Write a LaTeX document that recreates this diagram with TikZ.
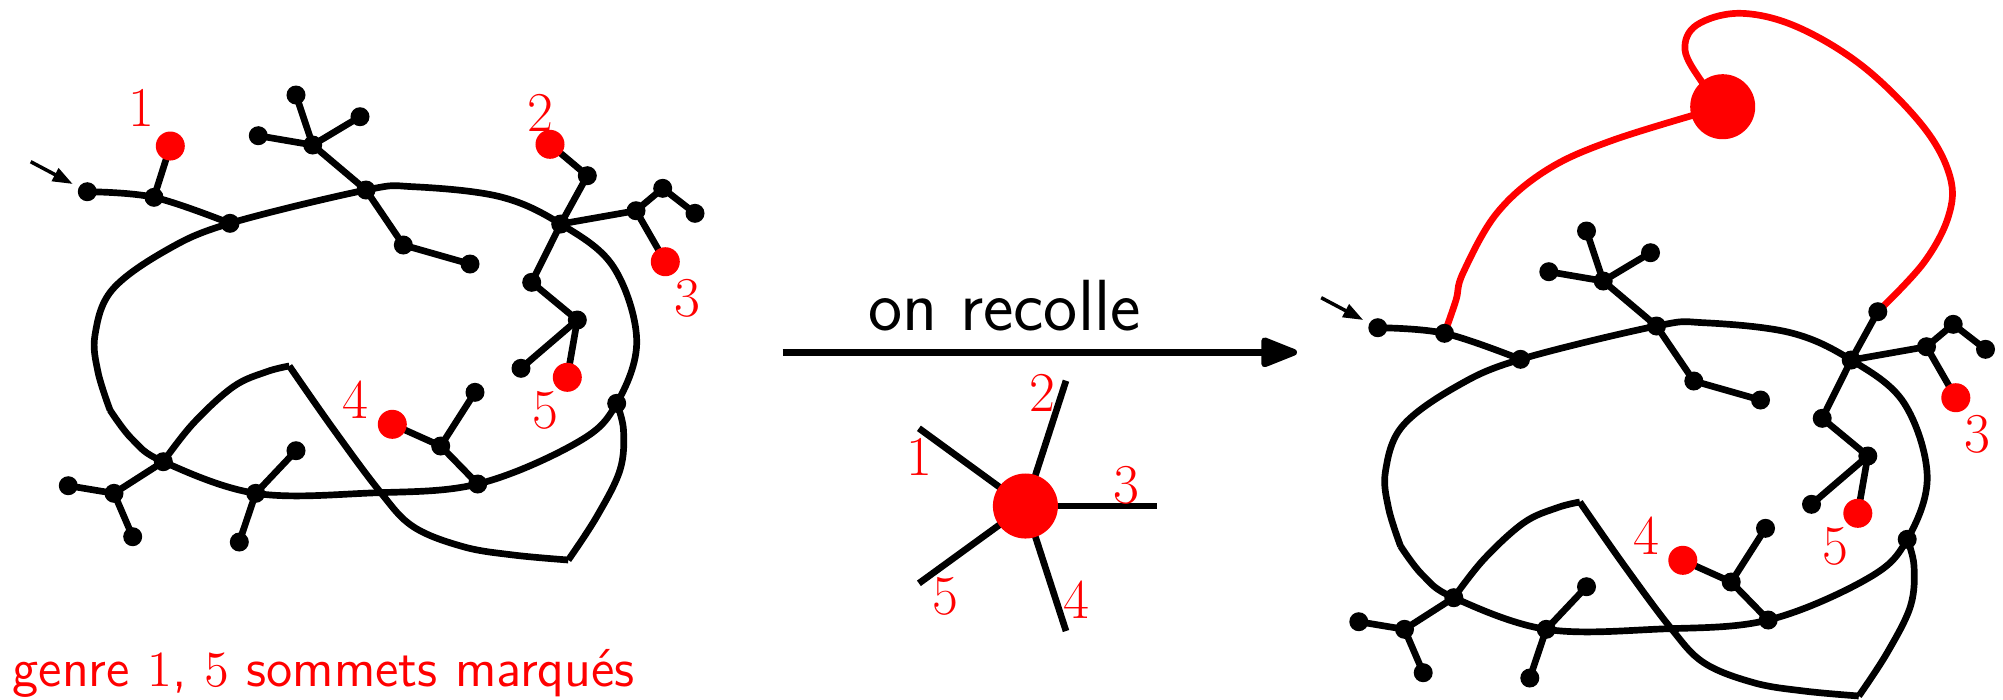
\documentclass[tikz,border=0pt]{standalone}
\usetikzlibrary{arrows.meta}
\pgfdeclarelayer{background}
\pgfsetlayers{background,main}
\tikzset{
  bdot/.style={circle,fill=black,inner sep=0pt,minimum size=0.19cm,outer sep=0pt},
  rdot/.style={circle,fill=red,inner sep=0pt,minimum size=0.29cm,outer sep=0pt},
  bigdot/.style={circle,fill=red,inner sep=0pt,minimum size=0.65cm,outer sep=0pt},
  edge/.style={line width=1.9pt,line join=round},
  redge/.style={edge,draw=red},
  lab/.style={text=red,font=\rmfamily\fontsize{16}{19}\selectfont,inner sep=0pt},
  sarrow/.style={line width=1pt,-{Triangle[length=0.2cm,width=0.14cm]}},
  bigarrow/.style={line width=1.9pt,-{Triangle[length=0.42cm,width=0.31cm,round]}}
}
\newcommand\carteNodes{%
  \node[bdot] (L0) at (87.3,191.7) {};
  \node[bdot] (A1) at (154,197.3) {};
  \node[bdot] (A2) at (230,223.3) {};
  \node[bdot] (T1) at (312.7,145) {};
  \node[bdot] (T1a) at (296,95) {};
  \node[bdot] (T1b) at (360,116.7) {};
  \node[bdot] (T1c) at (258.3,135.7) {};
  \node[bdot] (A3) at (366,190) {};
  \node[bdot] (B) at (403.3,245) {};
  \node[bdot] (B2) at (470,264) {};
  \node[bdot] (H) at (560.7,224) {};
  \node[bdot] (C) at (587.3,175.7) {};
  \node[bdot] (D) at (636,210.7) {};
  \node[bdot] (E) at (662.7,188.3) {};
  \node[bdot] (F) at (695,213.3) {};
  \node[rdot] (m3) at (665.3,261.7) {};
  \node[lab] (l3) at (687.3,298.3) {3};
  \node[bdot] (G) at (531.7,282.3) {};
  \node[bdot] (K) at (577.3,320) {};
  \node[bdot] (Kl) at (521,368.3) {};
  \node[rdot] (m5) at (567.3,377.3) {};
  \node[lab] (l5) at (545,410) {5};
  \node[bdot] (R) at (616.7,403.3) {};
  \node[bdot] (Q) at (477.7,484) {};
  \node[bdot] (S) at (440.7,446) {};
  \node[rdot] (m4) at (392.3,424.3) {};
  \node[bdot] (Sl) at (475,392.3) {};
  \node[lab] (l4) at (355.7,400) {4};
  \node[bdot] (P) at (255.7,493.3) {};
  \node[bdot] (Pu) at (296,450.7) {};
  \node[bdot] (Pd) at (239.3,542) {};
  \node[bdot] (M) at (163.3,461.7) {};
  \node[bdot] (N) at (114,493.3) {};
  \node[bdot] (Na) at (68.3,485.7) {};
  \node[bdot] (Nb) at (132.7,536.7) {};
  \coordinate (as) at (30.7,161.7);
  \coordinate (c1) at (110,410);
  \coordinate (c2) at (289.3,366);
  \coordinate (c3) at (568.3,560);
  \coordinate (v1) at (98,372);
  \coordinate (v2) at (95,335);
  \coordinate (v3) at (112,290);
  \coordinate (v4) at (166.7,250);
  \coordinate (v5) at (413,186.7);
  \coordinate (v6) at (500,196.7);
  \coordinate (v7) at (613.3,266.7);
  \coordinate (v8) at (636.7,340);
  \coordinate (v9) at (578,442);
  \coordinate (v10) at (370,493);
  \coordinate (v12) at (132,439);
  \coordinate (w1) at (193.3,423.3);
  \coordinate (w2) at (233.3,386.7);
  \coordinate (w3) at (266.7,371.7);
  \coordinate (w4) at (333.3,429);
  \coordinate (w5) at (380,491.7);
  \coordinate (w6) at (413.3,526.7);
  \coordinate (w7) at (463.3,546.7);
  \coordinate (w8) at (513.3,555);
  \coordinate (w9) at (596.7,516.7);
  \coordinate (w10) at (620,470);
  \coordinate (w11) at (623.5,430);
}
\newcommand\carteEdges{%
  \draw[sarrow,shorten >=0.07cm] (as) -- (L0);
  \draw[edge] plot[smooth,tension=0.6] coordinates {(L0.center) (A1.center) (A2.center)};
  \draw[edge] plot[smooth,tension=0.6] coordinates {(c1) (v1) (v2) (v3) (v4) (A2.center) (A3.center) (v5) (v6) (H.center) (v7) (v8) (R.center) (v9) (Q.center) (v10) (P.center) (M.center) (v12) (c1)};
  \draw[edge] plot[smooth,tension=0.6] coordinates {(M.center) (w1) (w2) (w3) (c2)};
  \draw[edge] plot[smooth,tension=0.6] coordinates {(c2) (w4) (w5) (w6) (w7) (w8) (c3)};
  \draw[edge] plot[smooth,tension=0.6] coordinates {(c3) (w9) (w10) (w11) (R.center)};
  \draw[edge] (T1.center) -- (A3.center);
  \draw[edge] (T1.center) -- (T1a.center);
  \draw[edge] (T1.center) -- (T1b.center);
  \draw[edge] (T1.center) -- (T1c.center);
  \draw[edge] (A3.center) -- (B.center) -- (B2.center);
  \draw[edge] (H.center) -- (C.center);
  \draw[edge] (H.center) -- (D.center) -- (E.center) -- (F.center);
  \draw[edge] (D.center) -- (m3.center);
  \draw[edge] (H.center) -- (G.center) -- (K.center) -- (Kl.center);
  \draw[edge] (K.center) -- (m5.center);
  \draw[edge] (Q.center) -- (S.center) -- (m4.center);
  \draw[edge] (S.center) -- (Sl.center);
  \draw[edge] (M.center) -- (N.center) -- (Na.center);
  \draw[edge] (N.center) -- (Nb.center);
  \draw[edge] (Pu.center) -- (P.center) -- (Pd.center);
}
\begin{document}
\begin{tikzpicture}[x=0.01cm,y=-0.01cm]
\useasboundingbox (0,0) rectangle (2003,699);
% ---------- left map ----------
\begin{scope}[name prefix=L-]
  \carteNodes
  \node[rdot] (m1) at (170.3,146) {};
  \node[rdot] (m2) at (550,144.3) {};
  \node[lab] (l1) at (141.7,108.3) {1};
  \node[lab] (l2) at (540.7,113.3) {2};
  \begin{pgfonlayer}{background}
    \carteEdges
    \draw[edge] (A1.center) -- (m1.center);
    \draw[edge] (C.center) -- (m2.center);
  \end{pgfonlayer}
\end{scope}
\node[text=red,font=\sffamily\fontsize{15.2}{18}\selectfont,anchor=base west,inner sep=0pt] (genre) at (12,686.7) {genre $1$, $5$ sommets marqués};
% ---------- middle ----------
\coordinate (arrS) at (782.5,352.3);
\coordinate (arrE) at (1297,352.3);
\draw[bigarrow] (arrS) -- (arrE);
\node[font=\sffamily\fontsize{20.6}{24}\selectfont,anchor=base,inner sep=0pt] (recolle) at (1004.5,330) {on recolle};
\node[bigdot] (Z) at (1025.4,506) {};
\coordinate (s1) at (918.9,428.3);
\coordinate (s2) at (1066,380.7);
\coordinate (s3) at (1157.1,506);
\coordinate (s4) at (1066,631);
\coordinate (s5) at (918.9,583.3);
\begin{pgfonlayer}{background}
  \foreach \i in {1,...,5} {\draw[edge] (Z.center) -- (s\i);}
\end{pgfonlayer}
\node[lab] (z1) at (919.6,456.7) {1};
\node[lab] (z2) at (1042,393.3) {2};
\node[lab] (z3) at (1126,485) {3};
\node[lab] (z4) at (1076,600) {4};
\node[lab] (z5) at (945,596.7) {5};
% ---------- right map ----------
\begin{scope}[shift={(1290.5,136)},name prefix=R-]
  \carteNodes
  \begin{pgfonlayer}{background}
    \carteEdges
  \end{pgfonlayer}
\end{scope}
\node[bigdot] (X) at (1722.7,106.7) {};
\begin{pgfonlayer}{background}
  \draw[redge] plot[smooth,tension=0.6] coordinates {(R-A1.center) (1456,300) (1463,273) (1496.7,213.3) (1546.7,170) (1613.3,140) (X.center)};
  \draw[redge] plot[smooth,tension=0.6] coordinates {(X.center) (1701.7,81.7) (1685,50) (1696.7,25) (1740,13.3) (1796.7,26.7) (1863.3,66.7) (1923.3,126.7) (1950,176.7) (1948.3,216.7) (1923.3,263.3) (R-C.center)};
\end{pgfonlayer}
\end{tikzpicture}
\end{document}
